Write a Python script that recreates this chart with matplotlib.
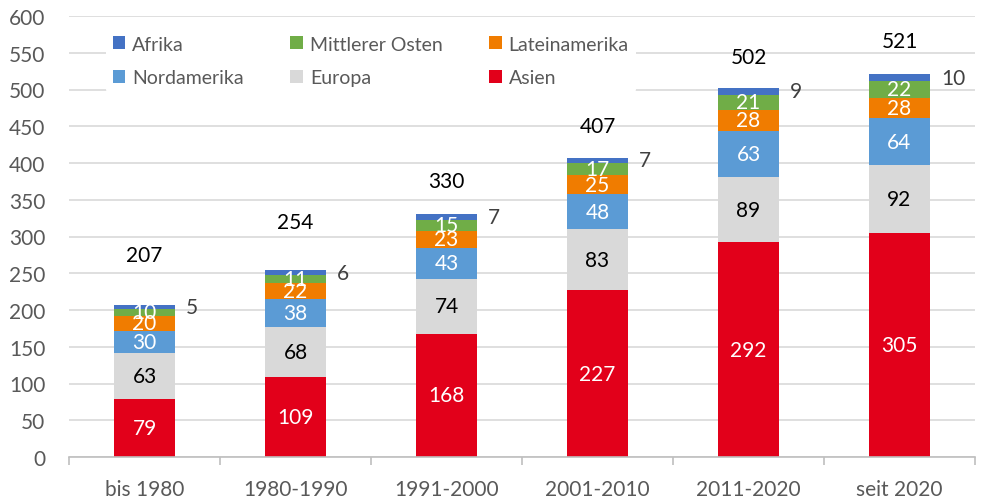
import matplotlib
matplotlib.use("Agg")
import matplotlib.pyplot as plt
from matplotlib.patches import Patch
import numpy as np

plt.rcParams['font.family'] = ['Lato', 'DejaVu Sans']

categories = ["bis 1980", "1980-1990", "1991-2000", "2001-2010", "2011-2020", "seit 2020"]
asien = [79, 109, 168, 227, 292, 305]
europa = [63, 68, 74, 83, 89, 92]
nordamerika = [30, 38, 43, 48, 63, 64]
lateinamerika = [20, 22, 23, 25, 28, 28]
mittlerer_osten = [10, 11, 15, 17, 21, 22]
afrika = [5, 6, 7, 7, 9, 10]
totals = [207, 254, 330, 407, 502, 521]

series = [
    ("Asien", asien, "#E2001A", "white"),
    ("Europa", europa, "#D9D9D9", "black"),
    ("Nordamerika", nordamerika, "#5B9BD5", "white"),
    ("Lateinamerika", lateinamerika, "#F07C00", "white"),
    ("Mittlerer Osten", mittlerer_osten, "#70AD47", "white"),
    ("Afrika", afrika, "#4472C4", None),
]

# vertical offset (points) of total labels above bar tops
total_offsets_pt = [36, 35, 24, 23, 22, 24]

FS = 15

fig = plt.figure(figsize=(9.81, 5.02), dpi=100)
ax = fig.add_axes([69/981, 44/502, (975-69)/981, (458-17)/502])

x = np.arange(len(categories))
width = 0.40
bottom = np.zeros(len(categories))
handles = {}
for name, vals, color, tcolor in series:
    vals = np.array(vals, dtype=float)
    ax.bar(x, vals, width, bottom=bottom, color=color, zorder=2)
    handles[name] = Patch(facecolor=color, edgecolor='none')
    if tcolor is not None:
        for xi, b, v in zip(x, bottom, vals):
            ax.text(xi, b + v / 2, f"{int(v)}", ha='center', va='center',
                    color=tcolor, fontsize=FS, zorder=3)
    else:
        for xi, b, v in zip(x, bottom, vals):
            ax.annotate(f"{int(v)}", xy=(xi + width / 2, b + v / 2),
                        xytext=(8, 0), textcoords='offset points',
                        ha='left', va='center', color='#404040', fontsize=FS)
    bottom = bottom + vals

for xi, t, off in zip(x, totals, total_offsets_pt):
    ax.annotate(f"{t}", xy=(xi, t), xytext=(0, off), textcoords='offset points',
                ha='center', va='center', color='black', fontsize=FS)

ax.set_xlim(-0.5, len(categories) - 0.5)
ax.set_ylim(0, 600)
ax.set_yticks(np.arange(0, 601, 50))
ax.yaxis.grid(True, color='#D9D9D9', linewidth=1.2, zorder=0)
ax.set_axisbelow(True)
for s in ['top', 'right', 'left']:
    ax.spines[s].set_visible(False)
ax.spines['bottom'].set_color('#BFBFBF')
ax.spines['bottom'].set_linewidth(1.2)
ax.tick_params(axis='y', length=0, pad=17, labelsize=FS, labelcolor='#595959')

ax.set_xticks(x)
ax.set_xticklabels(categories)
ax.tick_params(axis='x', which='major', length=0, pad=16, labelsize=FS, labelcolor='#595959')
ax.set_xticks(np.arange(-0.5, len(categories), 1.0), minor=True)
ax.tick_params(axis='x', which='minor', length=6, width=1.2, color='#BFBFBF', direction='out')

order = ["Afrika", "Nordamerika", "Mittlerer Osten", "Europa", "Lateinamerika", "Asien"]
leg = ax.legend([handles[n] for n in order], order, ncol=3, loc='upper left',
                bbox_to_anchor=(0.03, 0.993), frameon=True, fontsize=FS - 1,
                handlelength=0.65, handleheight=0.65, handletextpad=0.35,
                columnspacing=2.4, labelspacing=0.85, borderpad=0.35)
leg.get_frame().set_facecolor('white')
leg.get_frame().set_edgecolor('none')
leg.get_frame().set_alpha(1)
for t in leg.get_texts():
    t.set_color('#595959')

fig.savefig("out.png", dpi=100)
